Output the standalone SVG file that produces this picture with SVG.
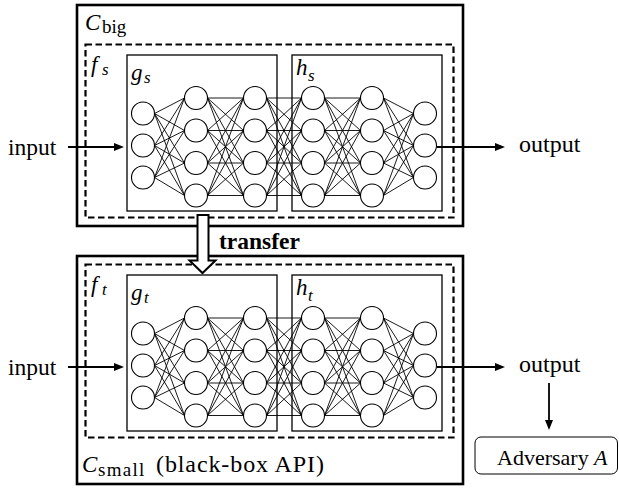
<svg xmlns="http://www.w3.org/2000/svg" width="619" height="489" viewBox="0 0 619 489">
<rect width="619" height="489" fill="#fff"/>

<g id="c-big">
<rect x="77" y="5" width="386" height="221" fill="none" stroke="#000" stroke-width="2.6"/>
<text x="85" y="30" font-family="Liberation Serif" font-size="23" font-style="italic">C</text>
<text x="102" y="33" font-family="Liberation Serif" font-size="19">big</text>
</g>
<g id="f-s">
<rect x="85.5" y="44.5" width="368" height="173" fill="none" stroke="#000" stroke-width="2.2" stroke-dasharray="6.5 3.5"/>
<text x="91" y="72" font-family="Liberation Serif" font-size="23" font-style="italic">f</text>
<text x="102" y="75" font-family="Liberation Serif" font-size="17" font-style="italic">s</text>
</g>
<g id="g-s">
<rect x="127" y="55" width="150" height="156" fill="none" stroke="#000" stroke-width="1.3"/>
<text x="131" y="80" font-family="Liberation Serif" font-size="23" font-style="italic">g</text>
<text x="144" y="83" font-family="Liberation Serif" font-size="17" font-style="italic">s</text>
</g>
<g id="h-s">
<rect x="292" y="55" width="150" height="156" fill="none" stroke="#000" stroke-width="1.3"/>
<text x="296" y="75" font-family="Liberation Serif" font-size="23" font-style="italic">h</text>
<text x="308" y="81" font-family="Liberation Serif" font-size="17" font-style="italic">s</text>
</g>
<g id="net-s">
<path fill="none" stroke="#000" stroke-width="0.9" d="M154.5 113.5L184.5 98M154.5 113.5L184.5 130.5M154.5 113.5L184.5 163M154.5 113.5L184.5 195.5M154.5 145.5L184.5 98M154.5 145.5L184.5 130.5M154.5 145.5L184.5 163M154.5 145.5L184.5 195.5M154.5 177.5L184.5 98M154.5 177.5L184.5 130.5M154.5 177.5L184.5 163M154.5 177.5L184.5 195.5
M207.5 98L243.5 98M207.5 98L243.5 130.5M207.5 98L243.5 163M207.5 98L243.5 195.5M207.5 130.5L243.5 98M207.5 130.5L243.5 130.5M207.5 130.5L243.5 163M207.5 130.5L243.5 195.5M207.5 163L243.5 98M207.5 163L243.5 130.5M207.5 163L243.5 163M207.5 163L243.5 195.5M207.5 195.5L243.5 98M207.5 195.5L243.5 130.5M207.5 195.5L243.5 163M207.5 195.5L243.5 195.5
M266.5 98L301.5 98M266.5 98L301.5 130.5M266.5 98L301.5 163M266.5 98L301.5 195.5M266.5 130.5L301.5 98M266.5 130.5L301.5 130.5M266.5 130.5L301.5 163M266.5 130.5L301.5 195.5M266.5 163L301.5 98M266.5 163L301.5 130.5M266.5 163L301.5 163M266.5 163L301.5 195.5M266.5 195.5L301.5 98M266.5 195.5L301.5 130.5M266.5 195.5L301.5 163M266.5 195.5L301.5 195.5
M324.5 98L360.5 98M324.5 98L360.5 130.5M324.5 98L360.5 163M324.5 98L360.5 195.5M324.5 130.5L360.5 98M324.5 130.5L360.5 130.5M324.5 130.5L360.5 163M324.5 130.5L360.5 195.5M324.5 163L360.5 98M324.5 163L360.5 130.5M324.5 163L360.5 163M324.5 163L360.5 195.5M324.5 195.5L360.5 98M324.5 195.5L360.5 130.5M324.5 195.5L360.5 163M324.5 195.5L360.5 195.5
M383.5 98L413.5 113.5M383.5 98L413.5 145.5M383.5 98L413.5 177.5M383.5 130.5L413.5 113.5M383.5 130.5L413.5 145.5M383.5 130.5L413.5 177.5M383.5 163L413.5 113.5M383.5 163L413.5 145.5M383.5 163L413.5 177.5M383.5 195.5L413.5 113.5M383.5 195.5L413.5 145.5M383.5 195.5L413.5 177.5"/>
<g fill="#fff" stroke="#000" stroke-width="1.1">
<circle cx="143" cy="113.5" r="11.5"/><circle cx="143" cy="145.5" r="11.5"/><circle cx="143" cy="177.5" r="11.5"/>
<circle cx="196" cy="98" r="11.5"/><circle cx="196" cy="130.5" r="11.5"/><circle cx="196" cy="163" r="11.5"/><circle cx="196" cy="195.5" r="11.5"/>
<circle cx="255" cy="98" r="11.5"/><circle cx="255" cy="130.5" r="11.5"/><circle cx="255" cy="163" r="11.5"/><circle cx="255" cy="195.5" r="11.5"/>
<circle cx="313" cy="98" r="11.5"/><circle cx="313" cy="130.5" r="11.5"/><circle cx="313" cy="163" r="11.5"/><circle cx="313" cy="195.5" r="11.5"/>
<circle cx="372" cy="98" r="11.5"/><circle cx="372" cy="130.5" r="11.5"/><circle cx="372" cy="163" r="11.5"/><circle cx="372" cy="195.5" r="11.5"/>
<circle cx="425" cy="113.5" r="11.5"/><circle cx="425" cy="145.5" r="11.5"/><circle cx="425" cy="177.5" r="11.5"/>
</g>
</g>

<g id="c-small">
<rect x="77" y="256" width="386" height="228" fill="none" stroke="#000" stroke-width="2.6"/>
<text x="82" y="472" font-family="Liberation Serif" font-size="23" font-style="italic">C</text>
<text x="98" y="476" font-family="Liberation Serif" font-size="19" letter-spacing="1.3">small</text>
<text x="156" y="472" font-family="Liberation Serif" font-size="24" letter-spacing="0.9">(black-box API)</text>
</g>
<g id="f-t">
<rect x="85.5" y="264.5" width="368" height="173" fill="none" stroke="#000" stroke-width="2.2" stroke-dasharray="6.5 3.5"/>
<text x="91" y="292" font-family="Liberation Serif" font-size="23" font-style="italic">f</text>
<text x="102" y="295" font-family="Liberation Serif" font-size="17" font-style="italic">t</text>
</g>
<g id="g-t">
<rect x="127" y="275" width="150" height="156" fill="none" stroke="#000" stroke-width="1.3"/>
<text x="131" y="300" font-family="Liberation Serif" font-size="23" font-style="italic">g</text>
<text x="144" y="303" font-family="Liberation Serif" font-size="17" font-style="italic">t</text>
</g>
<g id="h-t">
<rect x="292" y="275" width="150" height="156" fill="none" stroke="#000" stroke-width="1.3"/>
<text x="296" y="295" font-family="Liberation Serif" font-size="23" font-style="italic">h</text>
<text x="308" y="301" font-family="Liberation Serif" font-size="17" font-style="italic">t</text>
</g>
<g id="net-t" transform="translate(0,220)">
<path fill="none" stroke="#000" stroke-width="0.9" d="M154.5 113.5L184.5 98M154.5 113.5L184.5 130.5M154.5 113.5L184.5 163M154.5 113.5L184.5 195.5M154.5 145.5L184.5 98M154.5 145.5L184.5 130.5M154.5 145.5L184.5 163M154.5 145.5L184.5 195.5M154.5 177.5L184.5 98M154.5 177.5L184.5 130.5M154.5 177.5L184.5 163M154.5 177.5L184.5 195.5
M207.5 98L243.5 98M207.5 98L243.5 130.5M207.5 98L243.5 163M207.5 98L243.5 195.5M207.5 130.5L243.5 98M207.5 130.5L243.5 130.5M207.5 130.5L243.5 163M207.5 130.5L243.5 195.5M207.5 163L243.5 98M207.5 163L243.5 130.5M207.5 163L243.5 163M207.5 163L243.5 195.5M207.5 195.5L243.5 98M207.5 195.5L243.5 130.5M207.5 195.5L243.5 163M207.5 195.5L243.5 195.5
M266.5 98L301.5 98M266.5 98L301.5 130.5M266.5 98L301.5 163M266.5 98L301.5 195.5M266.5 130.5L301.5 98M266.5 130.5L301.5 130.5M266.5 130.5L301.5 163M266.5 130.5L301.5 195.5M266.5 163L301.5 98M266.5 163L301.5 130.5M266.5 163L301.5 163M266.5 163L301.5 195.5M266.5 195.5L301.5 98M266.5 195.5L301.5 130.5M266.5 195.5L301.5 163M266.5 195.5L301.5 195.5
M324.5 98L360.5 98M324.5 98L360.5 130.5M324.5 98L360.5 163M324.5 98L360.5 195.5M324.5 130.5L360.5 98M324.5 130.5L360.5 130.5M324.5 130.5L360.5 163M324.5 130.5L360.5 195.5M324.5 163L360.5 98M324.5 163L360.5 130.5M324.5 163L360.5 163M324.5 163L360.5 195.5M324.5 195.5L360.5 98M324.5 195.5L360.5 130.5M324.5 195.5L360.5 163M324.5 195.5L360.5 195.5
M383.5 98L413.5 113.5M383.5 98L413.5 145.5M383.5 98L413.5 177.5M383.5 130.5L413.5 113.5M383.5 130.5L413.5 145.5M383.5 130.5L413.5 177.5M383.5 163L413.5 113.5M383.5 163L413.5 145.5M383.5 163L413.5 177.5M383.5 195.5L413.5 113.5M383.5 195.5L413.5 145.5M383.5 195.5L413.5 177.5"/>
<g fill="#fff" stroke="#000" stroke-width="1.1">
<circle cx="143" cy="113.5" r="11.5"/><circle cx="143" cy="145.5" r="11.5"/><circle cx="143" cy="177.5" r="11.5"/>
<circle cx="196" cy="98" r="11.5"/><circle cx="196" cy="130.5" r="11.5"/><circle cx="196" cy="163" r="11.5"/><circle cx="196" cy="195.5" r="11.5"/>
<circle cx="255" cy="98" r="11.5"/><circle cx="255" cy="130.5" r="11.5"/><circle cx="255" cy="163" r="11.5"/><circle cx="255" cy="195.5" r="11.5"/>
<circle cx="313" cy="98" r="11.5"/><circle cx="313" cy="130.5" r="11.5"/><circle cx="313" cy="163" r="11.5"/><circle cx="313" cy="195.5" r="11.5"/>
<circle cx="372" cy="98" r="11.5"/><circle cx="372" cy="130.5" r="11.5"/><circle cx="372" cy="163" r="11.5"/><circle cx="372" cy="195.5" r="11.5"/>
<circle cx="425" cy="113.5" r="11.5"/><circle cx="425" cy="145.5" r="11.5"/><circle cx="425" cy="177.5" r="11.5"/>
</g>
</g>

<g id="adversary">
<rect x="475" y="437" width="142.5" height="37" rx="6" fill="#fff" stroke="#000" stroke-width="1"/>
<text x="497" y="465" font-family="Liberation Serif" font-size="22">Adversary</text>
<text x="594" y="465" font-family="Liberation Serif" font-size="22" font-style="italic">A</text>
</g>

<g id="connectors">
<g stroke="#000" stroke-width="1.8" fill="none">
<line x1="68" y1="147" x2="115" y2="147"/>
<line x1="437" y1="147" x2="496" y2="147"/>
<line x1="68" y1="367" x2="115" y2="367"/>
<line x1="437" y1="367" x2="496" y2="367"/>
<line x1="549" y1="383" x2="549" y2="421"/>
</g>
<g fill="#000">
<polygon points="114,143 124,147 114,151"/>
<polygon points="495,143 505,147 495,151"/>
<polygon points="114,363 124,367 114,371"/>
<polygon points="495,363 505,367 495,371"/>
<polygon points="545,420 549,430 553,420"/>
</g>
<polygon points="197.5,215 208.5,215 208.5,260.5 215.5,260.5 202.5,273 189.5,260.5 197.5,260.5" fill="#fff" stroke="#000" stroke-width="2"/>
</g>

<g id="labels">
<text x="8" y="155" font-family="Liberation Serif" font-size="23.5">input</text>
<text x="8" y="375" font-family="Liberation Serif" font-size="23.5">input</text>
<text x="519" y="152" font-family="Liberation Serif" font-size="24">output</text>
<text x="519" y="372" font-family="Liberation Serif" font-size="24">output</text>
<text x="219" y="249" font-family="Liberation Serif" font-size="23.5" font-weight="bold">transfer</text>
</g>
</svg>
